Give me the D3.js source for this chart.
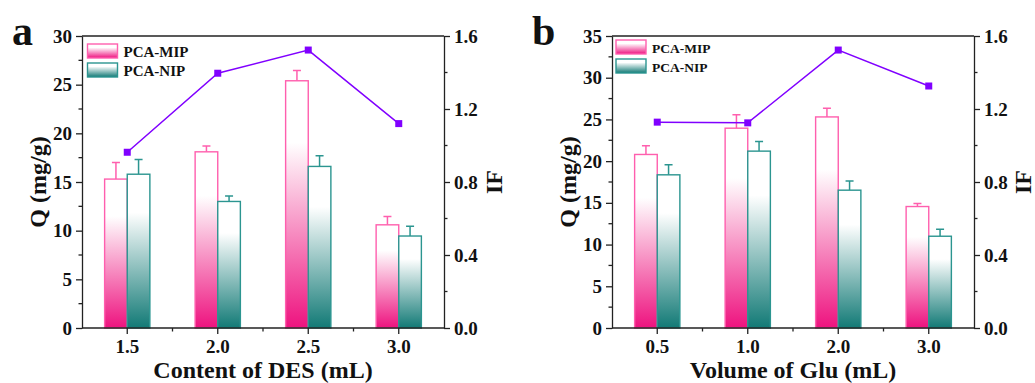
<!DOCTYPE html>
<html>
<head>
<meta charset="utf-8">
<script src="https://cdn.jsdelivr.net/npm/d3@7"></script>
<style>
  body { margin: 0; background: #fff; }
</style>
</head>
<body>
<div class="chart"></div>
<script>
// panel a: content of DES
const desLabels = ["1.5", "2.0", "2.5", "3.0"]
const desMIP = [15.3, 18.1, 25.4, 10.6]
const desMIPErr = [1.7, 0.6, 1.05, 0.85]
const desNIP = [15.8, 13.0, 16.6, 9.45]
const desNIPErr = [1.5, 0.55, 1.1, 1.0]
const desIF = [0.963, 1.396, 1.523, 1.12]

// panel b: volume of Glu
const gluLabels = ["0.5", "1.0", "2.0", "3.0"]
const gluMIP = [20.8, 23.95, 25.3, 14.56]
const gluMIPErr = [1.05, 1.6, 1.05, 0.35]
const gluNIP = [18.36, 21.2, 16.52, 11.0]
const gluNIPErr = [1.2, 1.15, 1.1, 0.85]
const gluIF = [1.128, 1.124, 1.523, 1.326]

const seriesNames = ["PCA-MIP", "PCA-NIP"]

const FONT = "Liberation Serif"

const svg = d3.select(".chart")
    .append("svg")
    .attr("width", 1035)
    .attr("height", 383)
    .style("display", "block")

const defs = svg.append("defs")

function makeGradient(id, dark) {
    const g = defs.append("linearGradient")
        .attr("id", id)
        .attr("x1", 0).attr("y1", 0)
        .attr("x2", 0).attr("y2", 1)
    g.append("stop").attr("offset", "0%").attr("stop-color", "#ffffff")
    g.append("stop").attr("offset", "25%").attr("stop-color", "#ffffff")
    g.append("stop").attr("offset", "100%").attr("stop-color", dark)
}
makeGradient("gradMIP", "#ee137f")
makeGradient("gradNIP", "#127a76")

const strokeMIP = "#ff5fae"
const strokeNIP = "#2b9590"
const ifColor = "#8000ff"

function styleAxis(sel) {
    sel.attr("font-family", FONT).attr("font-size", 19).attr("font-weight", "bold")
    sel.selectAll("path, line").attr("stroke", "#222").attr("stroke-width", 1.3)
    sel.selectAll("text")
        .attr("font-family", FONT)
        .attr("font-weight", "bold")
        .attr("font-size", 19)
        .attr("fill", "#111")
}

function drawPanel(opts) {
    const { left, right, top, bottom, labels, mip, mipErr, nip, nipErr, ifv, yMax, letter, letterX, xTitle, ifOffset, legendX, legendY, legendSize } = opts

    const g = svg.append("g")

    const x = d3.scaleBand()
        .domain(labels)
        .range([left, right])

    const y = d3.scaleLinear()
        .domain([0, yMax])
        .range([bottom, top])

    const yR = d3.scaleLinear()
        .domain([0, 1.6])
        .range([bottom, top])

    const barW = x.bandwidth() * 0.25

    const rows = labels.map((d, i) => ({ label: d, mip: mip[i], mipErr: mipErr[i], nip: nip[i], nipErr: nipErr[i] }))

    const groups = g.selectAll(".grp")
        .data(rows)
        .join("g")

    // error bars (upper half only)
    groups.append("path")
        .attr("d", d => {
            const cx = x(d.label) + x.bandwidth() / 2 - barW / 2
            return `M${cx},${y(d.mip)}V${y(d.mip + d.mipErr)}M${cx - 4},${y(d.mip + d.mipErr)}H${cx + 4}`
        })
        .attr("stroke", strokeMIP)
        .attr("stroke-width", 1.5)
        .attr("fill", "none")

    groups.append("path")
        .attr("d", d => {
            const cx = x(d.label) + x.bandwidth() / 2 + barW / 2
            return `M${cx},${y(d.nip)}V${y(d.nip + d.nipErr)}M${cx - 4},${y(d.nip + d.nipErr)}H${cx + 4}`
        })
        .attr("stroke", strokeNIP)
        .attr("stroke-width", 1.5)
        .attr("fill", "none")

    groups.append("rect")
        .attr("x", d => x(d.label) + x.bandwidth() / 2 - barW)
        .attr("y", d => y(d.mip))
        .attr("width", barW)
        .attr("height", d => bottom - y(d.mip))
        .attr("fill", "url(#gradMIP)")
        .attr("stroke", strokeMIP)
        .attr("stroke-width", 1.4)

    groups.append("rect")
        .attr("x", d => x(d.label) + x.bandwidth() / 2)
        .attr("y", d => y(d.nip))
        .attr("width", barW)
        .attr("height", d => bottom - y(d.nip))
        .attr("fill", "url(#gradNIP)")
        .attr("stroke", strokeNIP)
        .attr("stroke-width", 1.4)

    // IF line
    const line = d3.line()
        .x((d, i) => x(labels[i]) + x.bandwidth() / 2)
        .y(d => yR(d))

    g.append("path")
        .datum(ifv)
        .attr("d", line)
        .attr("fill", "none")
        .attr("stroke", ifColor)
        .attr("stroke-width", 1.5)

    g.selectAll(".marker")
        .data(ifv)
        .join("rect")
        .attr("x", (d, i) => x(labels[i]) + x.bandwidth() / 2 - 3.5)
        .attr("y", d => yR(d) - 3.5)
        .attr("width", 7)
        .attr("height", 7)
        .attr("fill", ifColor)

    // axes
    const yAxis = g.append("g")
        .attr("transform", `translate(${left},0)`)
        .call(d3.axisLeft(y).ticks(yMax / 5).tickSize(6).tickPadding(4).tickSizeOuter(0))
    yAxis.selectAll(".minor")
        .data(d3.range(2.5, yMax, 5))
        .join("line")
        .attr("x1", 0).attr("x2", -3.5)
        .attr("y1", d => y(d)).attr("y2", d => y(d))
    styleAxis(yAxis)

    const yAxisR = g.append("g")
        .attr("transform", `translate(${right},0)`)
        .call(d3.axisRight(yR).tickValues([0, 0.4, 0.8, 1.2, 1.6]).tickFormat(d3.format(".1f")).tickSize(6).tickPadding(4).tickSizeOuter(0))
    yAxisR.selectAll(".minor")
        .data([0.2, 0.6, 1.0, 1.4])
        .join("line")
        .attr("x1", 0).attr("x2", 3.5)
        .attr("y1", d => yR(d)).attr("y2", d => yR(d))
    styleAxis(yAxisR)

    const xAxis = g.append("g")
        .attr("transform", `translate(0,${bottom})`)
        .call(d3.axisBottom(x).tickSize(6).tickPadding(6).tickSizeOuter(0))
    xAxis.select(".domain").attr("d", `M${left},0H${right}`)
    xAxis.selectAll(".minor")
        .data(labels.slice(1))
        .join("line")
        .attr("x1", d => x(d)).attr("x2", d => x(d))
        .attr("y1", 0).attr("y2", 3.5)
    styleAxis(xAxis)

    // top frame
    g.append("line")
        .attr("x1", left).attr("x2", right)
        .attr("y1", top).attr("y2", top)
        .attr("stroke", "#222")
        .attr("stroke-width", 1.3)

    // titles
    const title = sel => sel.attr("font-family", FONT).attr("font-weight", "bold").attr("fill", "#111")

    g.append("text")
        .attr("x", (left + right) / 2)
        .attr("y", 378)
        .attr("text-anchor", "middle")
        .attr("font-size", 24)
        .call(title)
        .text(xTitle)

    g.append("text")
        .attr("transform", `translate(${left - 36},${(top + bottom) / 2}) rotate(-90)`)
        .attr("text-anchor", "middle")
        .attr("font-size", 24)
        .call(title)
        .text("Q (mg/g)")

    g.append("text")
        .attr("transform", `translate(${right + ifOffset},${(top + bottom) / 2}) rotate(-90)`)
        .attr("text-anchor", "middle")
        .attr("font-size", 24)
        .call(title)
        .text("IF")

    g.append("text")
        .attr("x", letterX)
        .attr("y", 45)
        .attr("font-size", 42)
        .call(title)
        .text(letter)

    // legend
    const leg = g.selectAll(".legend")
        .data(seriesNames)
        .join("g")
        .attr("transform", (d, i) => `translate(${legendX},${legendY + i * 19})`)

    leg.append("rect")
        .attr("width", 30)
        .attr("height", 14)
        .attr("fill", (d, i) => i === 0 ? "url(#gradMIP)" : "url(#gradNIP)")
        .attr("stroke", (d, i) => i === 0 ? strokeMIP : strokeNIP)
        .attr("stroke-width", 1.4)

    leg.append("text")
        .attr("x", 36)
        .attr("y", 12.5)
        .attr("font-size", legendSize)
        .call(title)
        .text(d => d)
}

drawPanel({
    left: 82, right: 444, top: 36, bottom: 328,
    labels: desLabels, mip: desMIP, mipErr: desMIPErr, nip: desNIP, nipErr: desNIPErr, ifv: desIF,
    yMax: 30, letter: "a", letterX: 12, xTitle: "Content of DES (mL)", ifOffset: 58,
    legendX: 87.5, legendY: 44, legendSize: 15
})

drawPanel({
    left: 612, right: 974, top: 36, bottom: 328,
    labels: gluLabels, mip: gluMIP, mipErr: gluMIPErr, nip: gluNIP, nipErr: gluNIPErr, ifv: gluIF,
    yMax: 35, letter: "b", letterX: 532, xTitle: "Volume of Glu (mL)", ifOffset: 57,
    legendX: 616, legendY: 40, legendSize: 13.5
})
</script>
</body>
</html>
